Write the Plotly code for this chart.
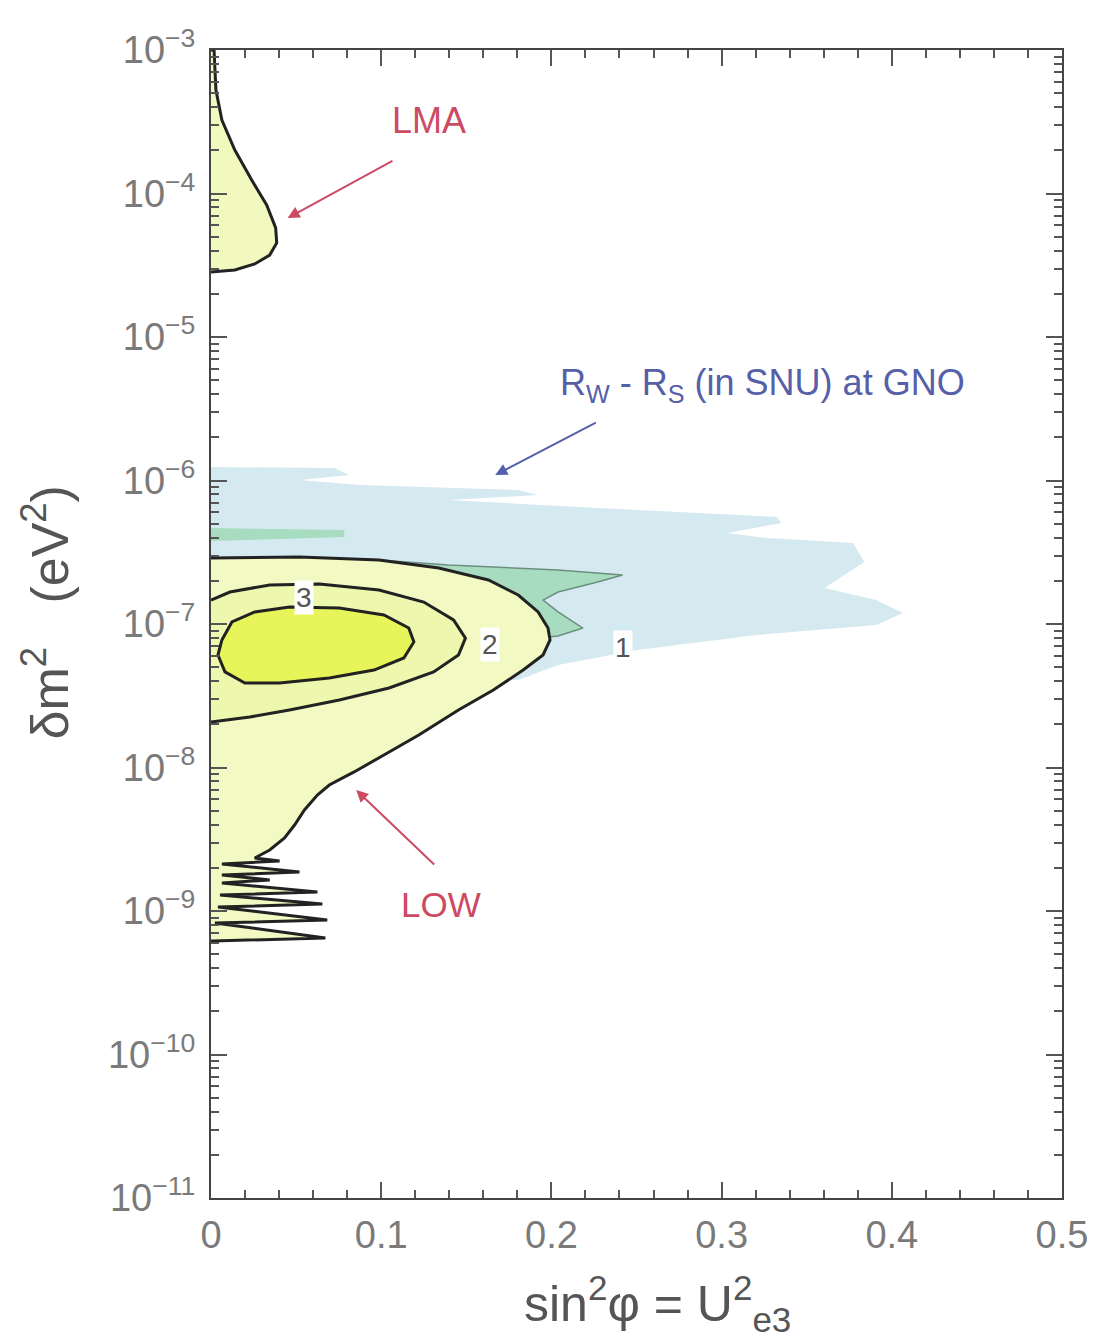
import numpy as np
import plotly.graph_objects as go

# ---------------- data (x = sin^2(phi), y = log10(delta m^2 / eV^2)) ----------------
LMA_X = [0, 0.0018, 0.0029, 0.0064, 0.0140, 0.0239, 0.0327, 0.0380, 0.0386, 0.0345, 0.0257, 0.0140, 0]
LMA_LOGY = [-3.000, -3.000, -3.279, -3.488, -3.697, -3.906, -4.080, -4.240, -4.345, -4.429, -4.491, -4.533, -4.547]

BLUE_X = [0, 0.0724, 0.0812, 0.0520, 0.0870, 0.1805, 0.1922, 0.1396, 0.2272, 0.3324, 0.3353, 0.3032,
          0.3265, 0.3773, 0.3838, 0.3604, 0.3908, 0.4065, 0.3908, 0.3207, 0.2506, 0.2039, 0.1805, 0]
BLUE_LOGY = [-5.906, -5.913, -5.962, -5.997, -6.031, -6.066, -6.101, -6.136, -6.192, -6.254, -6.296, -6.366,
             -6.401, -6.436, -6.568, -6.749, -6.833, -6.923, -7.007, -7.077, -7.181, -7.286, -7.390, -7.390]

GREEN_BAND_X = [0, 0.0783, 0.0783, 0]
GREEN_BAND_LOGY = [-6.331, -6.345, -6.394, -6.422]

GREEN_LOBE_X = [0.0987, 0.1396, 0.2039, 0.2418, 0.2272, 0.2039, 0.1951, 0.2039, 0.2185, 0.2039, 0.1805, 0.1396]
GREEN_LOBE_LOGY = [-6.554, -6.589, -6.624, -6.659, -6.707, -6.777, -6.833, -6.916, -7.028, -7.084, -7.111, -6.833]

OUTER_X = [0, 0.0520, 0.0987, 0.1338, 0.1630, 0.1805, 0.1922, 0.1980, 0.1992, 0.1951, 0.1834, 0.1659,
           0.1454, 0.1221, 0.1016, 0.0841, 0.0695, 0.0625, 0.0549, 0.0491, 0.0432, 0.0345, 0.0257,
           0.0403, 0.0064, 0.0520, 0.0064, 0.0345, 0.0064, 0.0625, 0.0053, 0.0654, 0.0041,
           0.0683, 0.0023, 0.0672, 0.0012, 0]
OUTER_LOGY = [-6.540, -6.533, -6.554, -6.610, -6.693, -6.798, -6.916, -7.028, -7.111, -7.216, -7.321, -7.460,
              -7.599, -7.774, -7.913, -8.031, -8.122, -8.192, -8.296, -8.401, -8.491, -8.575, -8.631,
              -8.652, -8.672, -8.728, -8.749, -8.784, -8.805, -8.868, -8.889, -8.951, -8.972,
              -9.063, -9.084, -9.188, -9.209, -9.209]

MIDDLE_X = [0, 0.0111, 0.0345, 0.0637, 0.0987, 0.1250, 0.1425, 0.1495, 0.1454, 0.1308, 0.1046, 0.0754,
            0.0461, 0.0228, 0]
MIDDLE_LOGY = [-6.833, -6.777, -6.728, -6.721, -6.763, -6.847, -6.972, -7.098, -7.216, -7.334, -7.446, -7.530,
               -7.599, -7.648, -7.683]

INNER_X = [0.0064, 0.0123, 0.0257, 0.0461, 0.0754, 0.1016, 0.1162, 0.1192, 0.1133, 0.0958, 0.0695, 0.0403,
           0.0199, 0.0082, 0.0041, 0.0064]
INNER_LOGY = [-7.111, -6.986, -6.916, -6.882, -6.889, -6.937, -7.028, -7.125, -7.237, -7.321, -7.376, -7.411,
              -7.411, -7.334, -7.216, -7.111]

CONTOUR_LABELS = ["3", "2", "1"]
CONTOUR_LABEL_X = [0.0549, 0.1641, 0.2418]
CONTOUR_LABEL_LOGY = [-6.812, -7.146, -7.167]

X_TICKS = [0, 0.1, 0.2, 0.3, 0.4, 0.5]
X_TICKTEXT = ["0", "0.1", "0.2", "0.3", "0.4", "0.5"]
Y_EXPONENTS = [-11, -10, -9, -8, -7, -6, -5, -4, -3]

# ---------------- figure ----------------
def yv(logs):
    return [10 ** v for v in logs]

fig = go.Figure()

def poly(x, logy, fill, line_color=None, width=0):
    fig.add_trace(go.Scatter(
        x=x, y=yv(logy), mode="lines", fill="toself", fillcolor=fill,
        line=dict(color=line_color if line_color else fill, width=width if line_color else 0),
        hoverinfo="skip", showlegend=False))

poly(BLUE_X, BLUE_LOGY, "#d5e9f1")
poly(GREEN_BAND_X, GREEN_BAND_LOGY, "#a8dcc0")
poly(GREEN_LOBE_X, GREEN_LOBE_LOGY, "#a8dcc0", "#6c8f80", 1.5)
poly(OUTER_X, OUTER_LOGY, "#f3f9c2", "#222222", 3)
poly(MIDDLE_X, MIDDLE_LOGY, "#eef7ae", "#222222", 3)
poly(INNER_X, INNER_LOGY, "#e8f55a", "#222222", 3)
poly(LMA_X, LMA_LOGY, "#f2f9be", "#222222", 3)

FONT = "Liberation Sans"
annotations = []
for t, x, ly in zip(CONTOUR_LABELS, CONTOUR_LABEL_X, CONTOUR_LABEL_LOGY):
    annotations.append(dict(x=x, y=ly, xref="x", yref="y", text=t, showarrow=False,
                            font=dict(size=28, color="#555555", family=FONT),
                            bgcolor="white", borderpad=1))

red = "#cc4a64"
blue = "#5560a8"
annotations += [
    dict(x=0.045, y=-4.171, ax=0.1075, ay=-3.767, xref="x", yref="y", axref="x", ayref="y",
         showarrow=True, arrowhead=2, arrowsize=1.2, arrowwidth=2, arrowcolor=red, text=""),
    dict(x=0.128, y=-3.488, xref="x", yref="y", text="LMA", showarrow=False,
         font=dict(size=36, color=red, family=FONT)),
    dict(x=0.0853, y=-8.157, ax=0.132, ay=-8.686, xref="x", yref="y", axref="x", ayref="y",
         showarrow=True, arrowhead=2, arrowsize=1.2, arrowwidth=2, arrowcolor=red, text=""),
    dict(x=0.135, y=-8.958, xref="x", yref="y", text="LOW", showarrow=False,
         font=dict(size=35, color=red, family=FONT)),
    dict(x=0.167, y=-5.962, ax=0.227, ay=-5.592, xref="x", yref="y", axref="x", ayref="y",
         showarrow=True, arrowhead=2, arrowsize=1.2, arrowwidth=2, arrowcolor=blue, text=""),
    dict(x=0.324, y=-5.334, xref="x", yref="y",
         text="R<sub>W</sub> - R<sub>S</sub> (in SNU) at GNO", showarrow=False,
         font=dict(size=36, color=blue, family=FONT)),
    dict(x=0.5245, y=-0.092, xref="paper", yref="paper", xanchor="center", yanchor="middle",
         text="sin<sup>2</sup>φ = U<sup>2</sup><sub>e3</sub>", showarrow=False,
         font=dict(size=50, color="#555555", family=FONT)),
    dict(x=-0.194, y=0.51, xref="paper", yref="paper", xanchor="center", yanchor="middle",
         textangle=-90,
         text="δm<sup>2</sup>   (eV<sup>2</sup>)", showarrow=False,
         font=dict(size=52, color="#555555", family=FONT)),
]

axis_common = dict(showgrid=False, zeroline=False, showline=True, linecolor="#444444", linewidth=2,
                   ticks="inside", ticklen=16, tickwidth=1.5, tickcolor="#555555", mirror="allticks",
                   tickfont=dict(size=38, color="#7a7a7a", family=FONT))

# page body has an 8px margin, so the figure is shrunk/offset to keep the plot area in place
fig.update_layout(
    width=1092, height=1336,
    margin=dict(l=203, r=33, t=42, b=146),
    paper_bgcolor="white", plot_bgcolor="white",
    xaxis=dict(range=[0, 0.5], tickvals=X_TICKS, ticktext=X_TICKTEXT, ticklabelstandoff=2,
               minor=dict(dtick=0.02, ticks="inside", ticklen=8, tickcolor="#555555", showgrid=False),
               **axis_common),
    yaxis=dict(type="log", range=[-11, -3], tickvals=[10 ** e for e in Y_EXPONENTS],
               ticktext=["10<sup>\u2212%d</sup>" % (-e) for e in Y_EXPONENTS], ticklabelstandoff=6,
               minor=dict(dtick="D1", ticks="inside", ticklen=8, tickcolor="#555555", showgrid=False),
               **axis_common),
    annotations=annotations,
    showlegend=False,
)

fig.write_html("out.html")
